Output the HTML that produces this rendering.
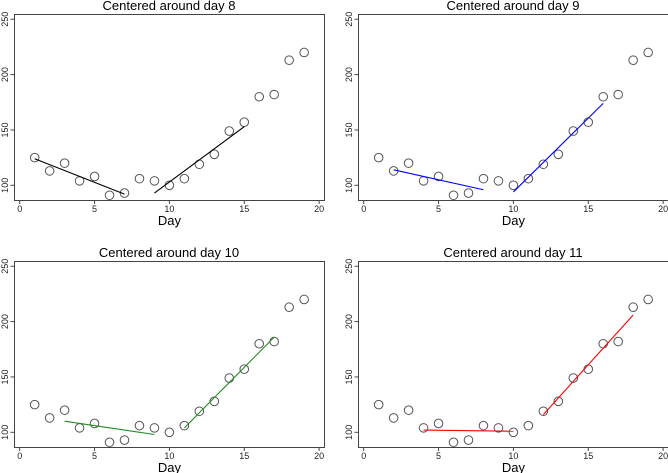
<!DOCTYPE html>
<html><head><meta charset="utf-8"><style>
html,body{margin:0;padding:0;background:#fff;}
svg{display:block;font-family:"Liberation Sans",sans-serif;}
</style></head><body>
<svg id="c" width="668" height="473" viewBox="0 0 668 473"></svg>
<script>
const days=[1,2,3,4,5,6,7,8,9,10,11,12,13,14,15,16,17,18,19];
const values=[125,113,120,104,108,91,93,106,104,100,106,119,128,149,157,180,182,213,220];
const titles=["Centered around day 8","Centered around day 9","Centered around day 10","Centered around day 11"];
const colors=["#000","#0000ff","#228b22","#ff0000"];
const leftFitX=[[1,7],[2,8],[3,9],[4,10]];
const leftFitY=[[124,92],[114,96],[110,98],[102,101]];
const rightFitX=[[9,15],[10,16],[11,17],[12,18]];
const rightFitY=[[93,153],[94,174],[104,186],[116,206]];
const xTicks=[0,5,10,15,20];
const yTicks=[100,150,200,250];
const offsets=[[0,0],[344,0],[0,247],[344,247]];
const NS="http://www.w3.org/2000/svg";
const svg=document.getElementById('c');
function mk(t,a,p){const e=document.createElementNS(NS,t);for(const k in a)e.setAttribute(k,a[k]);(p||svg).appendChild(e);return e;}
for(let i=0;i<4;i++){
  const ox=offsets[i][0],oy=offsets[i][1];
  const g=mk('g',{});
  
  
  const X=d=>ox+19.7+d*14.97;
  const Y=v=>oy+185.3-(v-100)*1.107;
  const fr=mk('rect',{x:ox+14.5,y:oy+14.5,width:310,height:186,fill:'none',stroke:'#444','stroke-width':1},g);
  
  
  const t=mk('text',{x:ox+169,y:oy+10,'text-anchor':'middle','font-size':13,fill:'#000'},g);t.textContent=titles[i];
  
  
  xTicks.forEach(v=>{mk('line',{x1:X(v),x2:X(v),y1:oy+200,y2:oy+204,stroke:'#444'},g);
    const l=mk('text',{x:X(v),y:oy+212,'text-anchor':'middle','font-size':9,fill:'#222'},g);l.textContent=v;
    
    });
  yTicks.forEach(v=>{mk('line',{x1:ox+14.5,x2:ox+10.5,y1:Y(v),y2:Y(v),stroke:'#444'},g);
    const l=mk('text',{x:ox+8,y:Y(v),'text-anchor':'middle','font-size':9,fill:'#222',transform:`rotate(-90 ${ox+8} ${Y(v)})`},g);l.textContent=v;
    
    });
  const xl=mk('text',{x:X(10),y:oy+225,'text-anchor':'middle','font-size':13,fill:'#000'},g);xl.textContent='Day';
  
  
  days.forEach((d,j)=>{const c=mk('circle',{cx:X(d),cy:Y(values[j]),r:4.3,fill:'none',stroke:'#555','stroke-width':1},g);
    
    });
  const l1=mk('line',{x1:X(leftFitX[i][0]),y1:Y(leftFitY[i][0]),x2:X(leftFitX[i][1]),y2:Y(leftFitY[i][1]),stroke:colors[i],'stroke-width':1.1},g);
  
  
  const l2=mk('line',{x1:X(rightFitX[i][0]),y1:Y(rightFitY[i][0]),x2:X(rightFitX[i][1]),y2:Y(rightFitY[i][1]),stroke:colors[i],'stroke-width':1.1},g);
  
  
}
</script>
</body></html>
